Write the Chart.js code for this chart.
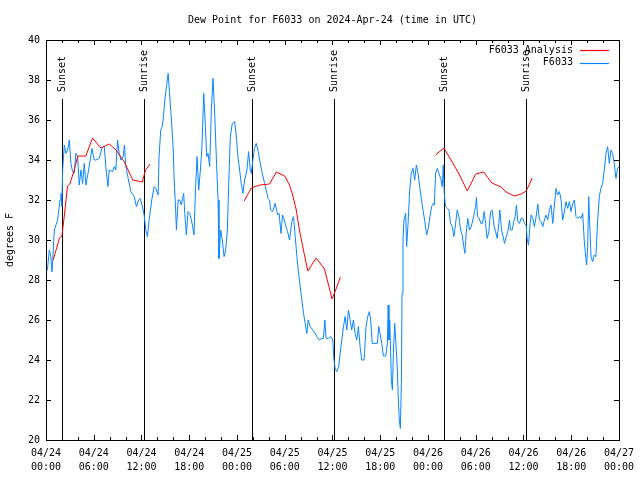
<!DOCTYPE html>
<html>
<head>
<meta charset="utf-8">
<script src="https://cdn.jsdelivr.net/npm/chart.js@4.4.1/dist/chart.umd.min.js"></script>
<style>
	html, body { margin: 0; padding: 0; background: #fff; }
	canvas { display: block; }
</style>
</head>
<body>
<canvas id="chart-0" width="640" height="480"></canvas>
<script>
'use strict';

var TITLE = 'Dew Point for F6033 on 2024-Apr-24 (time in UTC)';
var FONT = '"DejaVu Sans Mono", "Liberation Mono", monospace';

// hours since 2024-04-24 00:00 UTC
var sunsetHours = [1.96, 25.88, 50.0];
var sunriseHours = [12.33, 36.25, 60.38];

// F6033 Analysis (gaps where no analysis)
var analysisHours = [0.9, 1.7, 2.0, 2.3, 2.7, 3.0, 3.55, 4.0, 5.0, 5.85, 6.9, 7.95, 8.8, 9.85, 10.9, 12.1, 12.5, 13.1,
	18,
	24.9, 25.8, 26.85, 28.1, 28.95, 30.0, 30.6, 31.0, 31.45, 31.85, 32.35, 32.9, 33.95, 35.0, 35.95, 36.4, 37.0,
	43,
	48.95, 50.0, 51.05, 51.9, 52.95, 54.0, 55.0, 56.05, 57.2, 57.8, 58.85, 59.7, 60.35, 61.1];
var analysisDew = [29.0, 30.1, 30.2, 31.2, 32.7, 32.8, 33.5, 34.2, 34.2, 35.1, 34.6, 34.8, 34.5, 33.9, 33.0, 32.9, 33.5, 33.8,
	null,
	31.95, 32.6, 32.75, 32.8, 33.4, 33.2, 32.75, 32.25, 31.5, 30.5, 29.5, 28.45, 29.1, 28.55, 27.05, 27.5, 28.15,
	null,
	34.25, 34.6, 33.9, 33.3, 32.45, 33.3, 33.4, 32.85, 32.65, 32.4, 32.2, 32.3, 32.45, 33.1];

// F6033 observations
var obsHours = [
	0.05, 0.2, 0.42, 0.6, 0.75, 0.85, 1.05, 1.46, 1.76, 1.88, 2.0, 2.09, 2.3, 2.5, 2.72, 2.93, 3.13, 3.34, 3.55, 3.76,
	3.97, 4.18, 4.39, 4.6, 4.81, 5.02, 5.35, 5.56, 5.77, 6.06, 6.27, 6.69, 7.02, 7.32, 7.52, 7.78, 7.94, 8.36, 8.57, 8.78,
	8.99, 9.2, 9.41, 9.7, 9.86, 10.03, 10.24, 10.66, 11.08, 11.37, 11.62, 11.83, 12.12, 12.33, 12.54, 12.75, 12.96, 13.29, 13.59, 13.8,
	14.09, 14.21, 14.42, 14.6, 14.72, 14.93, 15.14, 15.35, 15.55, 15.76, 15.97, 16.1, 16.26, 16.39, 16.6, 16.8, 17.0, 17.3, 17.44, 17.64,
	17.85, 18.06, 18.36, 18.6, 18.8, 18.98, 19.19, 19.4, 19.6, 19.82, 20.03, 20.2, 20.36, 20.57, 20.78, 20.99, 21.2, 21.4, 21.62, 21.74,
	21.95, 22.16, 22.37, 22.58, 22.79, 22.95, 23.16, 23.41, 23.7, 23.9, 24.12, 24.33, 24.54, 24.75, 24.96, 25.25, 25.46, 25.67, 25.8, 26.0,
	26.2, 26.42, 26.63, 26.84, 27.18, 27.47, 27.76, 27.89, 28.1, 28.22, 28.5, 28.8, 29.1, 29.3, 29.52, 29.73, 29.94, 30.15, 30.36, 30.6,
	30.9, 31.11, 31.32, 31.53, 31.74, 31.94, 32.15, 32.36, 32.57, 32.78, 32.95, 33.2, 33.53, 33.83, 34.03, 34.33, 34.66, 34.87, 35.04, 35.2,
	35.5, 35.79, 36.04, 36.17, 36.33, 36.54, 36.79, 36.96, 37.17, 37.38, 37.59, 37.8, 38.0, 38.22, 38.42, 38.63, 38.84, 39.05, 39.26, 39.47,
	39.68, 39.97, 40.22, 40.43, 40.64, 40.8, 41.0, 41.35, 41.64, 41.81, 41.98, 42.19, 42.4, 42.69, 42.9, 43.0, 43.1, 43.2, 43.4, 43.53,
	43.65, 43.82, 43.95, 44.15, 44.28, 44.4, 44.53, 44.66, 44.74, 44.86, 44.99, 45.2, 45.32, 45.5, 45.7, 45.9, 46.12, 46.33, 46.54, 46.75,
	46.96, 47.16, 47.37, 47.58, 47.83, 48.04, 48.25, 48.46, 48.67, 48.8, 48.96, 49.17, 49.38, 49.59, 49.8, 49.92, 50.05, 50.2, 50.43, 50.63,
	50.84, 51.05, 51.26, 51.47, 51.68, 51.89, 52.1, 52.3, 52.5, 52.64, 52.8, 53.0, 53.23, 53.44, 53.64, 53.85, 53.98, 54.1, 54.23, 54.44,
	54.65, 54.86, 55.07, 55.23, 55.44, 55.65, 55.86, 56.07, 56.28, 56.5, 56.7, 56.9, 57.03, 57.24, 57.4, 57.62, 57.83, 58.04, 58.25, 58.37,
	58.58, 58.79, 58.96, 59.12, 59.29, 59.5, 59.7, 59.92, 60.13, 60.34, 60.46, 60.63, 60.84, 60.96, 61.17, 61.38, 61.59, 61.8, 62.0, 62.22,
	62.43, 62.63, 62.84, 63.05, 63.26, 63.47, 63.68, 63.89, 64.1, 64.3, 64.52, 64.73, 64.93, 65.14, 65.35, 65.56, 65.77, 65.98, 66.19, 66.4,
	66.6, 66.82, 67.02, 67.23, 67.44, 67.65, 67.78, 67.94, 68.07, 68.2, 68.36, 68.49, 68.7, 68.9, 69.1, 69.33, 69.53, 69.74, 69.95, 70.16,
	70.37, 70.58, 70.79, 70.99, 71.2, 71.41, 71.62, 71.83, 71.96
];
var obsDew = [
	28.4, 28.6, 29.5, 29.2, 28.4, 29.0, 30.5, 31.0, 32.0, 32.33, 31.67, 33.5, 34.75, 34.33, 34.5, 35.0, 33.83, 33.42, 33.33, 34.33,
	34.17, 32.75, 33.5, 32.83, 33.83, 32.75, 33.5, 34.0, 34.58, 34.0, 34.0, 34.08, 34.58, 34.7, 33.67, 32.67, 33.5, 33.42, 33.67, 33.5,
	35.0, 34.33, 34.0, 34.17, 34.75, 33.67, 33.25, 32.42, 32.17, 31.67, 32.0, 32.08, 31.67, 31.25, 30.5, 30.17, 31.0, 32.0, 32.67, 32.58,
	32.25, 34.17, 35.5, 35.67, 36.0, 37.0, 37.67, 38.33, 37.17, 36.0, 34.67, 33.08, 31.83, 30.5, 32.0, 32.0, 31.75, 32.33, 31.33, 30.25,
	31.42, 31.33, 30.83, 30.25, 32.67, 34.17, 32.5, 33.5, 34.67, 37.33, 35.67, 34.17, 34.33, 33.67, 36.5, 38.08, 36.33, 34.17, 32.0, 29.08,
	30.5, 30.0, 29.17, 29.5, 30.5, 32.67, 35.17, 35.83, 35.92, 35.25, 34.17, 33.5, 32.83, 32.33, 33.0, 33.5, 34.42, 33.5, 33.33, 34.0,
	34.58, 34.83, 34.5, 34.0, 33.33, 32.83, 32.33, 32.08, 32.0, 31.5, 31.42, 31.83, 31.25, 31.33, 30.33, 31.25, 31.0, 30.67, 30.42, 30.0,
	30.92, 31.17, 30.17, 29.17, 28.33, 27.67, 27.0, 26.33, 25.83, 25.33, 26.0, 25.67, 25.5, 25.33, 25.17, 25.0, 25.08, 25.08, 26.0, 25.08,
	25.08, 25.17, 25.0, 24.08, 23.58, 23.42, 23.67, 24.33, 25.0, 25.67, 26.17, 25.5, 26.5, 26.0, 25.5, 26.0, 25.33, 25.0, 25.67, 24.67,
	24.0, 24.0, 25.67, 26.17, 26.42, 26.0, 24.83, 24.83, 24.83, 25.67, 25.33, 24.83, 24.2, 24.2, 24.83, 26.75, 25.0, 26.0, 23.0, 22.5,
	24.33, 25.83, 25.0, 23.5, 22.0, 21.0, 20.58, 22.83, 27.33, 30.0, 31.0, 31.33, 29.67, 30.83, 32.5, 33.33, 33.58, 33.0, 33.75, 33.33,
	32.67, 32.08, 31.5, 31.0, 30.25, 30.58, 31.17, 31.67, 31.83, 31.75, 33.33, 33.58, 33.33, 33.08, 32.67, 33.75, 32.33, 31.67, 31.58, 31.5,
	30.83, 30.67, 30.17, 30.83, 31.5, 31.17, 30.5, 30.25, 29.67, 29.33, 30.33, 31.08, 30.5, 30.67, 31.0, 31.42, 31.67, 32.13, 31.17, 31.08,
	30.83, 30.83, 31.42, 30.83, 30.08, 30.42, 31.42, 31.5, 30.75, 30.42, 30.08, 30.83, 31.5, 30.5, 30.25, 29.83, 30.17, 30.42, 31.0, 30.5,
	30.5, 30.92, 31.17, 31.75, 30.92, 30.83, 31.08, 31.08, 30.83, 30.75, 30.08, 29.75, 30.83, 31.25, 31.08, 30.67, 31.17, 31.8, 31.0, 30.92,
	30.67, 31.0, 31.25, 31.0, 31.5, 31.75, 30.83, 31.75, 32.58, 32.25, 32.42, 32.0, 31.0, 31.42, 31.92, 31.58, 31.92, 31.42, 31.83, 32.0,
	31.17, 31.08, 31.17, 31.08, 31.33, 29.92, 29.33, 28.75, 29.67, 32.17, 30.5, 29.17, 28.92, 29.25, 29.17, 31.0, 32.17, 32.58, 32.83, 33.5,
	34.33, 34.67, 33.83, 34.5, 34.33, 33.83, 33.08, 33.58, 33.67
];

function toPoints(xs, ys) {
	var pts = [];
	for (var i = 0; i < xs.length; ++i) {
		pts.push({x: xs[i], y: ys[i]});
	}
	return pts;
}

function pad2(n) {
	return (n < 10 ? '0' : '') + n;
}

function hourLabel(h) {
	var day = 24 + Math.floor(h / 24);
	return ['04/' + pad2(day), pad2(h % 24) + ':00'];
}

// border box with inward tick marks on all four sides
var frame = {
	id: 'frame',
	afterDraw: function(chart) {
		var ctx = chart.ctx;
		var a = chart.chartArea;
		var xs = chart.scales.x;
		var ys = chart.scales.y;
		var h, v, px, py, len;
		ctx.save();
		ctx.strokeStyle = '#000';
		ctx.lineWidth = 1;
		ctx.beginPath();
		for (h = 0; h <= 72; h += 2) {
			px = Math.round(xs.getPixelForValue(h)) + 0.5;
			len = h % 6 === 0 ? 5 : 3;
			ctx.moveTo(px, a.bottom);
			ctx.lineTo(px, a.bottom - len);
			ctx.moveTo(px, a.top);
			ctx.lineTo(px, a.top + len);
		}
		for (v = 20; v <= 40; v += 2) {
			py = Math.round(ys.getPixelForValue(v)) + 0.5;
			ctx.moveTo(a.left, py);
			ctx.lineTo(a.left + 5, py);
			ctx.moveTo(a.right, py);
			ctx.lineTo(a.right - 5, py);
		}
		ctx.stroke();
		ctx.strokeRect(Math.round(a.left) + 0.5, Math.round(a.top) + 0.5,
			Math.round(a.right - a.left), Math.round(a.bottom - a.top));

		// title
		ctx.fillStyle = '#000';
		ctx.font = '10px ' + FONT;
		ctx.textAlign = 'center';
		ctx.textBaseline = 'middle';
		ctx.fillText(TITLE, (a.left + a.right) / 2, 20);

		// key, top right inside the plot
		var ds = chart.data.datasets;
		ctx.textAlign = 'right';
		ctx.lineWidth = 1.2;
		for (var i = 0; i < ds.length; ++i) {
			var ky = a.top + 10 + i * 12.5;
			ctx.fillText(ds[i].label, a.right - 46, ky);
			ctx.strokeStyle = ds[i].borderColor;
			ctx.beginPath();
			ctx.moveTo(a.right - 39, Math.round(ky) + 0.5);
			ctx.lineTo(a.right - 10, Math.round(ky) + 0.5);
			ctx.stroke();
		}
		ctx.restore();
	}
};

// sunrise / sunset markers
var sunLines = {
	id: 'sunLines',
	beforeDatasetsDraw: function(chart) {
		var ctx = chart.ctx;
		var a = chart.chartArea;
		var xs = chart.scales.x;
		var marks = [];
		sunsetHours.forEach(function(h) { marks.push([h, 'Sunset']); });
		sunriseHours.forEach(function(h) { marks.push([h, 'Sunrise']); });
		ctx.save();
		ctx.strokeStyle = '#000';
		ctx.fillStyle = '#000';
		ctx.lineWidth = 1;
		ctx.font = '10px ' + FONT;
		marks.forEach(function(m) {
			var px = Math.round(xs.getPixelForValue(m[0])) + 0.5;
			ctx.beginPath();
			ctx.moveTo(px, a.top + 59);
			ctx.lineTo(px, a.bottom);
			ctx.stroke();
			ctx.save();
			ctx.translate(px, a.top + 52);
			ctx.rotate(-Math.PI / 2);
			ctx.textAlign = 'left';
			ctx.textBaseline = 'middle';
			ctx.fillText(m[1], 0, 0);
			ctx.restore();
		});
		ctx.restore();
	}
};

window.addEventListener('load', function() {
	new Chart('chart-0', {
		type: 'line',
		data: {
			datasets: [{
				label: 'F6033 Analysis',
				data: toPoints(analysisHours, analysisDew),
				borderColor: '#ff0000',
				borderWidth: 1,
				spanGaps: false
			}, {
				label: 'F6033',
				data: toPoints(obsHours, obsDew),
				borderColor: '#0a85ff',
				borderWidth: 1
			}]
		},
		options: {
			responsive: false,
			animation: false,
			devicePixelRatio: 1,
			layout: {padding: {top: 40, right: 20, left: 0, bottom: 0}},
			elements: {
				point: {radius: 0},
				line: {tension: 0}
			},
			plugins: {
				legend: {display: false},
				tooltip: {enabled: false}
			},
			scales: {
				x: {
					type: 'linear',
					min: 0,
					max: 72,
					afterFit: function(scale) { scale.height = 40; },
					grid: {display: false, drawTicks: false},
					border: {display: false},
					ticks: {
						stepSize: 6,
						autoSkip: false,
						maxRotation: 0,
						padding: 6,
						color: '#000',
						font: {family: FONT, size: 10, lineHeight: 1.4},
						callback: function(value) { return hourLabel(value); }
					}
				},
				y: {
					min: 20,
					max: 40,
					afterFit: function(scale) { scale.width = 46; },
					grid: {display: false, drawTicks: false},
					border: {display: false},
					title: {
						display: true,
						text: 'degrees F',
						color: '#000',
						font: {family: FONT, size: 10},
						padding: {top: 4, bottom: 0}
					},
					ticks: {
						stepSize: 2,
						padding: 6,
						color: '#000',
						font: {family: FONT, size: 10}
					}
				}
			}
		},
		plugins: [sunLines, frame]
	});
});
</script>
</body>
</html>
